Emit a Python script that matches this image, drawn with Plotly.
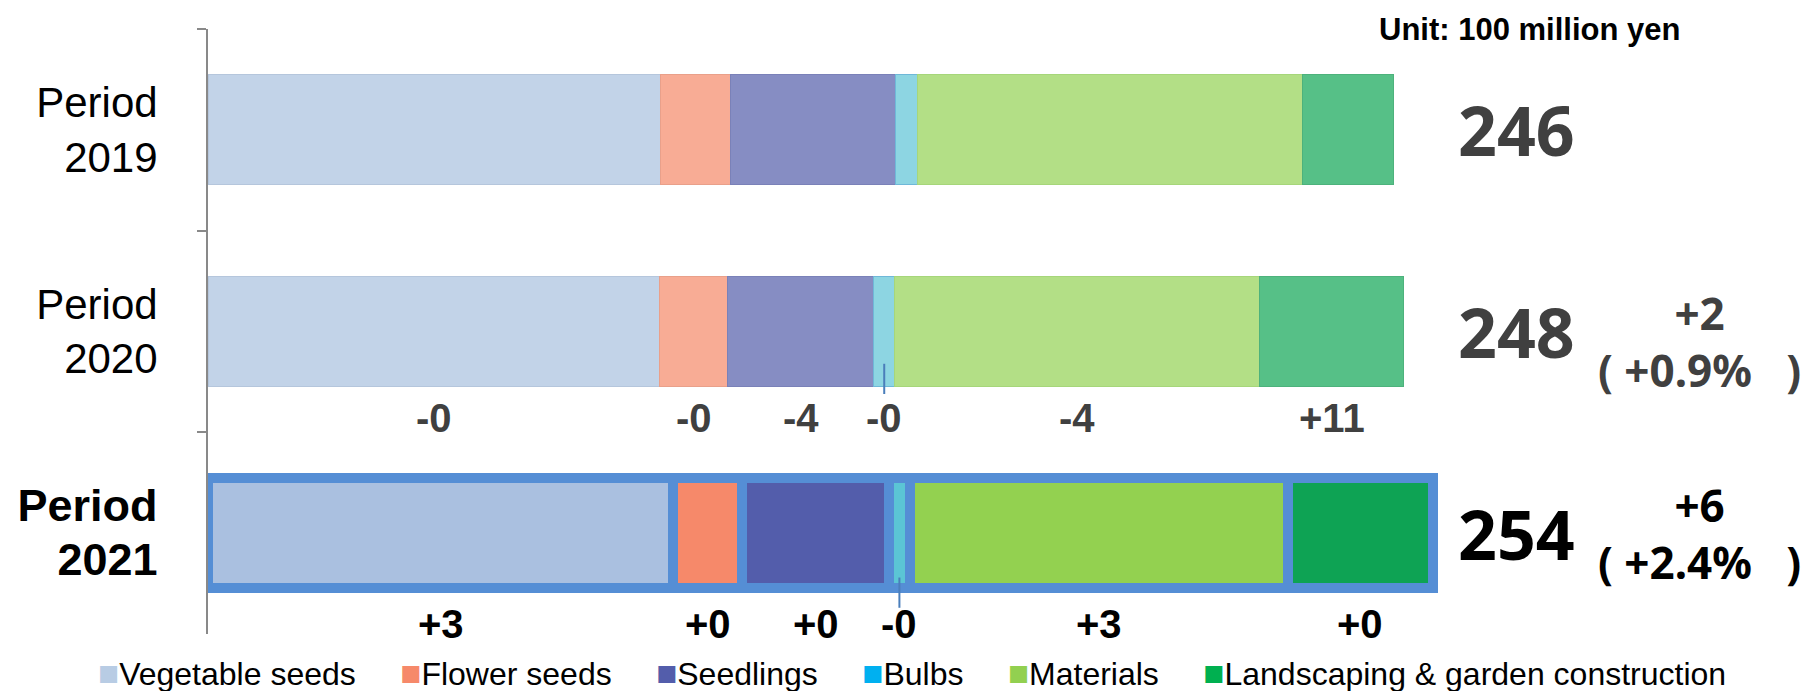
import plotly.graph_objects as go

# ---- data (unit: 100 million yen) ----
periods = ["Period<br>2019", "Period<br>2020",
           "<span style='font-size:45px'><b>Period</b><br><b>2021</b></span>"]
segments = ["Vegetable seeds", "Flower seeds", "Seedlings", "Bulbs", "Materials",
            "Landscaping & garden construction"]

vegetable_seeds = [94.0, 93.8, 96.6]
flower_seeds = [14.4, 14.0, 14.2]
seedlings = [34.3, 30.4, 30.6]
bulbs = [4.6, 4.3, 4.2]
materials = [79.8, 75.8, 78.5]
landscaping = [18.9, 29.9, 30.1]

totals_text = ["246", "248", "254"]
change_text = ["", "+2<br>( +0.9%&nbsp;&nbsp;&nbsp;)", "+6<br>( +2.4%&nbsp;&nbsp;&nbsp;)"]
delta_2020 = ["-0", "-0", "-4", "-0", "-4", "+11"]
delta_2021 = ["+3", "+0", "+0", "-0", "+3", "+0"]

# ---- styling ----
light_colors = ["#C2D3E8", "#F8AC95", "#868DC3", "#8DD5E2", "#B3DF86", "#56C087"]
light_edges = ["#B5C6DC", "#E9A08A", "#7A81B8", "#6FB8D8", "#A6D67A", "#4DB27C"]
dark_colors = ["#AAC0E0", "#F6896A", "#535DAB", "#5BC5D5", "#93D150", "#0EA354"]
legend_colors = ["#B8CCE4", "#F6896A", "#535DAB", "#00B0F0", "#92D050", "#00B050"]
highlight = "#558ED5"
axis_grey = "#898989"
dark_text = "#404040"

series = [vegetable_seeds, flower_seeds, seedlings, bulbs, materials, landscaping]

fig = go.Figure()
for k, (name, vals) in enumerate(zip(segments, series)):
    fig.add_trace(go.Bar(
        name=name,
        y=periods,
        x=vals,
        orientation="h",
        marker=dict(
            color=[light_colors[k], light_colors[k], dark_colors[k]],
            line=dict(color=[light_edges[k], light_edges[k], highlight],
                      width=[1, 1, 10]),
        ),
        showlegend=False,
        hoverinfo="x+name",
    ))

# segment centres for the change labels and bulb leader lines
def centres(i):
    out, acc = [], 0.0
    for vals in series:
        out.append(acc + vals[i] / 2)
        acc += vals[i]
    return out

annotations = []
shapes = []

# totals on the right of each bar, with the change versus the previous period
change_offsets = [0, 0.05, 0.0]
for i, t in enumerate(totals_text):
    col = "black" if i == 2 else dark_text
    annotations.append(dict(
        x=259, y=i, xref="x", yref="y", xanchor="left", yanchor="middle",
        text=f"<b>{t}</b>", showarrow=False,
        font=dict(family="Noto Sans", size=68, color=col),
    ))
    if change_text[i]:
        annotations.append(dict(
            x=309.5, y=i + change_offsets[i], xref="x", yref="y",
            xanchor="center", yanchor="middle",
            text=f"<b>{change_text[i]}</b>", showarrow=False,
            font=dict(family="Noto Sans", size=44, color=col),
        ))

# year-on-year change of each segment, below the 2020 and 2021 bars
for i, deltas, col, off in [(1, delta_2020, dark_text, 0.43), (2, delta_2021, "black", 0.45)]:
    for k, (cx, d) in enumerate(zip(centres(i), deltas)):
        annotations.append(dict(
            x=cx, y=i + off, xref="x", yref="y", xanchor="center", yanchor="middle",
            text=f"<b>{d}</b>", showarrow=False,
            font=dict(family="Liberation Sans", size=40, color=col),
        ))

# leader lines for the thin bulbs segment
for i, y0, y1 in [(1, 0.16, 0.31), (2, 0.22, 0.37)]:
    bx = centres(i)[3]
    shapes.append(dict(type="line", xref="x", yref="y", x0=bx, x1=bx, y0=i + y0, y1=i + y1,
                       line=dict(color="#4A7EBB", width=2)))

# legend row
sp = "&nbsp;" * 5
legend_html = sp.join(
    f"<span style='color:{c};font-size:35px'>■</span>{n}"
    for c, n in zip(legend_colors, segments)
)
annotations.append(dict(
    x=0.443, y=-0.063, xref="paper", yref="paper", xanchor="center", yanchor="middle",
    text=legend_html, showarrow=False,
    font=dict(family="Liberation Sans", size=32, color="black"),
))

# unit note
annotations.append(dict(
    x=0.831, y=1.0, xref="paper", yref="paper", xanchor="center", yanchor="middle",
    text="<b>Unit: 100 million yen</b>", showarrow=False,
    font=dict(family="Liberation Sans", size=31, color="black"),
))

fig.update_layout(
    barmode="stack",
    bargap=0.455,
    width=1811, height=691,
    margin=dict(l=208, r=13, t=29, b=57, autoexpand=False),
    paper_bgcolor="white", plot_bgcolor="white",
    annotations=annotations,
    shapes=shapes,
    xaxis=dict(visible=False, range=[0, 330], automargin=False),
    yaxis=dict(
        type="category", range=[len(periods) - 0.5, -0.5], automargin=False,
        tickson="boundaries", ticks="outside", ticklen=9, tickwidth=2,
        tickcolor=axis_grey, showline=True, linecolor=axis_grey, linewidth=2,
        showgrid=False, ticklabelstandoff=40,
        tickfont=dict(family="Liberation Sans", size=42, color="black"),
    ),
)

fig.write_html("out.html")
